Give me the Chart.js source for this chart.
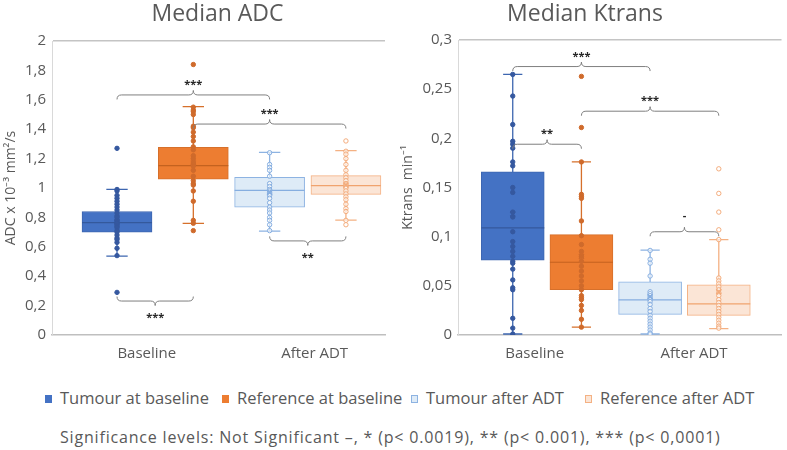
<!DOCTYPE html>
<html><head><meta charset="utf-8">
<script src="https://cdn.jsdelivr.net/npm/chart.js@4.4.1/dist/chart.umd.min.js"></script>
<style>
html,body{margin:0;padding:0;background:#fff;}
body{width:787px;height:450px;position:relative;overflow:hidden;font-family:"Open Sans",sans-serif;color:#595959;}
canvas{position:absolute;top:0;}
#c1{left:0;}
#c2{left:393px;}
.lg{position:absolute;top:387px;font-size:16.5px;line-height:22px;white-space:nowrap;color:#595959;}
.lg i{display:inline-block;width:7px;height:8px;margin-right:8px;vertical-align:1px;box-sizing:border-box;}
#note{position:absolute;left:60px;top:426px;font-size:16px;letter-spacing:0.82px;line-height:22px;white-space:nowrap;color:#595959;}
</style></head>
<body>
<canvas id="c1" width="393" height="375"></canvas>
<canvas id="c2" width="394" height="375"></canvas>
<div id="legend"></div>
<div id="note">Significance levels: Not Significant –, * (p&lt; 0.0019), ** (p&lt; 0.001), *** (p&lt; 0,0001)</div>
<script>
// ---------- DATA ----------
const categories = ['Baseline', 'After ADT'];
const seriesNames = ['Tumour at baseline', 'Reference at baseline', 'Tumour after ADT', 'Reference after ADT'];

// Median ADC (x10^-3 mm2/s)
const adcTickValues = [0, 0.2, 0.4, 0.6, 0.8, 1, 1.2, 1.4, 1.6, 1.8, 2];
const adcTickLabels = ['0', '0,2', '0,4', '0,6', '0,8', '1', '1,2', '1,4', '1,6', '1,8', '2'];
const adcMin    = [0.537, 0.760, 0.707, 0.782];
const adcQ1     = [0.700, 1.060, 0.869, 0.957];
const adcMedian = [0.764, 1.152, 0.984, 1.016];
const adcQ3     = [0.840, 1.277, 1.073, 1.084];
const adcMax    = [0.990, 1.553, 1.243, 1.254];
const adcMean   = [0.770, 1.170, 0.970, 1.020];
const adcTumourBaseline = [1.27, 0.99, 0.98, 0.95, 0.93, 0.91, 0.89, 0.87, 0.85, 0.83, 0.81, 0.80, 0.78, 0.77, 0.76, 0.75, 0.74, 0.73, 0.71, 0.70, 0.68, 0.66, 0.65, 0.63, 0.59, 0.54, 0.29];
const adcReferenceBaseline = [1.84, 1.55, 1.53, 1.52, 1.50, 1.42, 1.41, 1.38, 1.35, 1.32, 1.28, 1.26, 1.22, 1.20, 1.17, 1.16, 1.15, 1.12, 1.08, 1.05, 1.03, 1.02, 0.98, 0.91, 0.78, 0.76, 0.71];
const adcTumourADT = [1.24, 1.16, 1.14, 1.12, 1.08, 1.03, 1.01, 0.99, 0.98, 0.97, 0.96, 0.95, 0.93, 0.90, 0.87, 0.85, 0.83, 0.80, 0.78, 0.75, 0.71];
const adcReferenceADT = [1.32, 1.25, 1.23, 1.20, 1.16, 1.12, 1.09, 1.07, 1.05, 1.03, 1.02, 1.01, 1.00, 0.98, 0.96, 0.94, 0.92, 0.89, 0.86, 0.84, 0.78, 0.75];
const adcBraceFrom  = [0, 1, 0, 2];
const adcBraceTo    = [2, 3, 1, 3];
const adcBraceLevel = [1.633, 1.435, 0.231, 0.640];
const adcBraceUp    = [true, true, false, false];
const adcBraceLabel = ['***', '***', '***', '**'];

// Median Ktrans (min^-1)
const ktTickValues = [0, 0.05, 0.1, 0.15, 0.2, 0.25, 0.3];
const ktTickLabels = ['0', '0,05', '0,1', '0,15', '0,2', '0,25', '0,3'];
const ktMin    = [0.001, 0.008, 0.001, 0.0065];
const ktQ1     = [0.076, 0.046, 0.021, 0.020];
const ktMedian = [0.109, 0.074, 0.0357, 0.0316];
const ktQ3     = [0.166, 0.102, 0.054, 0.051];
const ktMax    = [0.265, 0.176, 0.0864, 0.097];
const ktMean   = [0.123, 0.080, 0.039, 0.044];
const ktTumourBaseline = [0.265, 0.243, 0.214, 0.197, 0.194, 0.190, 0.176, 0.172, 0.150, 0.145, 0.125, 0.120, 0.105, 0.095, 0.090, 0.085, 0.080, 0.075, 0.073, 0.067, 0.056, 0.048, 0.046, 0.017, 0.007, 0.001];
const ktReferenceBaseline = [0.263, 0.211, 0.176, 0.143, 0.141, 0.139, 0.116, 0.101, 0.092, 0.085, 0.080, 0.075, 0.070, 0.065, 0.060, 0.055, 0.050, 0.046, 0.040, 0.038, 0.036, 0.030, 0.025, 0.016, 0.008];
const ktTumourADT = [0.086, 0.077, 0.073, 0.060, 0.044, 0.042, 0.040, 0.038, 0.036, 0.034, 0.031, 0.027, 0.024, 0.020, 0.017, 0.014, 0.011, 0.008, 0.005, 0.002, 0.001];
const ktReferenceADT = [0.169, 0.144, 0.125, 0.107, 0.097, 0.058, 0.055, 0.052, 0.049, 0.046, 0.043, 0.040, 0.036, 0.033, 0.030, 0.027, 0.024, 0.021, 0.018, 0.015, 0.012, 0.009, 0.007];
const ktBraceFrom  = [0, 1, 0, 2];
const ktBraceTo    = [2, 3, 1, 3];
const ktBraceLevel = [0.273, 0.2276, 0.194, 0.105];
const ktBraceUp    = [true, true, true, true];
const ktBraceLabel = ['***', '***', '**', '-'];

// ---------- STYLE ----------
const boxPos = [1, 2, 3, 4];
const fillC    = ['#4472C4', '#ED7D31', '#DEEBF7', '#FBE5D6'];
const borderC  = ['#3d66b0', '#d6702b', '#8db3e2', '#f4b183'];
const medianC  = ['#34599c', '#c4621f', '#86aee0', '#f0a36e'];
const pointC   = ['#35589f', '#cf6a2b', '#86aee0', '#f3ab7b'];
const pointBg  = ['#35589f', '#cf6a2b', 'rgba(255,255,255,0.6)', 'rgba(255,255,255,0.6)'];
const textC = '#595959';
const FONT = '"Open Sans", sans-serif';

function buildChart(id, o) {
  const datasets = [{
    type: 'bar', order: 10,
    data: o.q1.map((q, i) => ({ x: boxPos[i], y: [q, o.q3[i]] })),
    backgroundColor: fillC, borderColor: borderC, borderWidth: 1, borderSkipped: false,
    barThickness: o.barThickness, grouped: false
  }];
  o.points.forEach((pts, i) => datasets.push({
    type: 'scatter', order: 2,
    data: pts.map(v => ({ x: boxPos[i], y: v })),
    pointRadius: 2.2, pointBorderWidth: 1,
    pointBackgroundColor: pointBg[i], pointBorderColor: pointC[i]
  }));
  datasets.push({
    type: 'scatter', order: 1,
    data: o.mean.map((v, i) => ({ x: boxPos[i], y: v })),
    pointStyle: 'crossRot', pointRadius: 3.5, pointBorderWidth: 1.5,
    pointBorderColor: pointC, pointBackgroundColor: pointC
  });

  const boxPlugin = {
    id: 'boxparts',
    afterLayout(chart) { chart.titleBlock.left += o.titleShift; chart.titleBlock.right += o.titleShift; },
    beforeDatasetsDraw(chart) {
      const ctx = chart.ctx, xs = chart.scales.x, ys = chart.scales.y;
      ctx.save();
      o.min.forEach((mn, i) => {
        const x = xs.getPixelForValue(boxPos[i]);
        const cw = xs.getPixelForValue(boxPos[i] + o.cap / 2) - x;
        const y0 = ys.getPixelForValue(mn), y1 = ys.getPixelForValue(o.max[i]);
        ctx.strokeStyle = borderC[i]; ctx.lineWidth = 1.3;
        ctx.beginPath();
        ctx.moveTo(x, y0); ctx.lineTo(x, y1);
        ctx.moveTo(x - cw, y0); ctx.lineTo(x + cw, y0);
        ctx.moveTo(x - cw, y1); ctx.lineTo(x + cw, y1);
        ctx.stroke();
      });
      ctx.restore();
    },
    afterDatasetDraw(chart, args) {
      if (args.index !== 0) return;
      const ctx = chart.ctx, xs = chart.scales.x, ys = chart.scales.y;
      ctx.save();
      o.median.forEach((m, i) => {
        const x = xs.getPixelForValue(boxPos[i]);
        const y = ys.getPixelForValue(m);
        ctx.strokeStyle = medianC[i]; ctx.lineWidth = 1.2;
        ctx.beginPath();
        ctx.moveTo(x - o.barThickness / 2, y); ctx.lineTo(x + o.barThickness / 2, y);
        ctx.stroke();
      });
      ctx.restore();
    },
    afterDraw(chart) {
      const ctx = chart.ctx, xs = chart.scales.x, ys = chart.scales.y;
      ctx.save();
      const d = 4.5;
      o.braceFrom.forEach((f, k) => {
        const x1 = xs.getPixelForValue(boxPos[f]);
        const x2 = xs.getPixelForValue(boxPos[o.braceTo[k]]);
        const xm = (x1 + x2) / 2;
        const y = ys.getPixelForValue(o.braceLevel[k]);
        const s = o.braceUp[k] ? 1 : -1;
        ctx.strokeStyle = '#7f7f7f'; ctx.lineWidth = 1;
        ctx.beginPath();
        ctx.moveTo(x1, y + s * d);
        ctx.quadraticCurveTo(x1, y, x1 + d, y);
        ctx.lineTo(xm - d, y);
        ctx.quadraticCurveTo(xm, y, xm, y - s * d);
        ctx.quadraticCurveTo(xm, y, xm + d, y);
        ctx.lineTo(x2 - d, y);
        ctx.quadraticCurveTo(x2, y, x2, y + s * d);
        ctx.stroke();
        ctx.fillStyle = '#262626';
        ctx.font = 'bold 11px ' + FONT;
        ctx.textAlign = 'center';
        ctx.textBaseline = 'middle';
        const lbl = o.braceLabel[k];
        const off = lbl === '-' ? 16 : 10;
        const ty = o.braceUp[k] ? y - off : y + off + 7;
        ctx.fillText(lbl, xm, ty);
      });
      ctx.restore();
    }
  };

  return new Chart(document.getElementById(id), {
    type: 'scatter',
    data: { datasets },
    plugins: [boxPlugin],
    options: {
      responsive: false, animation: false, devicePixelRatio: 1,
      layout: { padding: { left: 0, right: o.padRight, top: 0, bottom: 0 } },
      plugins: {
        legend: { display: false }, tooltip: { enabled: false },
        title: { display: true, text: o.title, color: textC,
          font: { size: 23, family: FONT, weight: 'normal' }, padding: { top: 1, bottom: o.titlePadBottom } }
      },
      scales: {
        x: {
          type: 'linear', min: o.xMin, max: o.xMax, offset: false,
          grid: { display: false, drawTicks: false, offset: false },
          border: { color: '#bfbfbf', width: 1.5 },
          afterBuildTicks: s => { s.ticks = o.labelPos.map(v => ({ value: v })); },
          afterFit: s => { s.height = 40; },
          ticks: { autoSkip: false, maxRotation: 0, padding: 10, color: textC,
            font: { size: 15, family: FONT }, callback: (v, i) => categories[i] }
        },
        y: {
          type: 'linear', min: o.tickValues[0], max: o.tickValues[o.tickValues.length - 1],
          afterBuildTicks: s => { s.ticks = o.tickValues.map(v => ({ value: v })); },
          afterFit: s => { s.width = o.yAxisWidth; },
          grid: { drawTicks: false, lineWidth: 1.5,
            color: c => (c.tick && c.tick.value === o.tickValues[o.tickValues.length - 1]) ? '#c4c4c4' : 'rgba(0,0,0,0)' },
          border: { color: '#d9d9d9', width: 1 },
          ticks: { padding: 6, color: textC, font: { size: 15, family: FONT },
            callback: (v, i) => o.tickLabels[i] },
          title: { display: true, text: o.yTitle, color: textC, font: { size: 14, family: FONT }, padding: o.yTitlePad }
        }
      }
    }
  });
}

buildChart('c1', {
  title: 'Median ADC', yTitle: 'ADC x 10⁻³ mm²/s',
  tickValues: adcTickValues, tickLabels: adcTickLabels,
  min: adcMin, q1: adcQ1, median: adcMedian, q3: adcQ3, max: adcMax, mean: adcMean,
  points: [adcTumourBaseline, adcReferenceBaseline, adcTumourADT, adcReferenceADT],
  braceFrom: adcBraceFrom, braceTo: adcBraceTo, braceLevel: adcBraceLevel, braceUp: adcBraceUp, braceLabel: adcBraceLabel,
  xMin: 0.148, xMax: 4.512, labelPos: [1.39, 3.59],
  barThickness: 70, cap: 0.28, yAxisWidth: 52, padRight: 8, titleShift: 25, titlePadBottom: 12.4, yTitlePad: 3
});
buildChart('c2', {
  title: 'Median Ktrans', yTitle: 'Ktrans  min⁻¹',
  tickValues: ktTickValues, tickLabels: ktTickLabels,
  min: ktMin, q1: ktQ1, median: ktMedian, q3: ktQ3, max: ktMax, mean: ktMean,
  points: [ktTumourBaseline, ktReferenceBaseline, ktTumourADT, ktReferenceADT],
  braceFrom: ktBraceFrom, braceTo: ktBraceTo, braceLevel: ktBraceLevel, braceUp: ktBraceUp, braceLabel: ktBraceLabel,
  xMin: 0.203, xMax: 4.913, labelPos: [1.32, 3.64],
  barThickness: 63, cap: 0.28, yAxisWidth: 65, padRight: 4, titleShift: -3, titlePadBottom: 11.4, yTitlePad: 7
});

// ---------- LEGEND ----------
const legendX = [45, 222, 411, 585];
const legendBorder = ['#4472C4', '#ED7D31', '#8db3e2', '#f4b183'];
const lg = document.getElementById('legend');
seriesNames.forEach((name, i) => {
  const d = document.createElement('div');
  d.className = 'lg';
  d.style.left = legendX[i] + 'px';
  const m = document.createElement('i');
  m.style.background = fillC[i];
  m.style.border = '1px solid ' + legendBorder[i];
  d.appendChild(m);
  d.appendChild(document.createTextNode(name));
  lg.appendChild(d);
});
</script>
</body></html>
